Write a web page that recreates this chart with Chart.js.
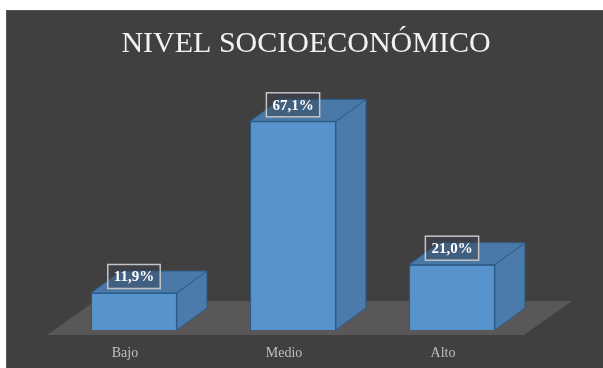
<!DOCTYPE html>
<html>
<head>
<meta charset="utf-8">
<script src="https://cdn.jsdelivr.net/npm/chart.js@4/dist/chart.umd.min.js"></script>
<style>
  html, body { margin: 0; padding: 0; background: #fff; }
  #box { position: relative; width: 603px; height: 368px; }
</style>
</head>
<body>
<div id="box"><canvas id="myChart"></canvas></div>
<script>
/* data */
const categories = ['Bajo', 'Medio', 'Alto'];
const values = [11.9, 67.1, 21.0];
const titleText = 'NIVEL SOCIOECONÓMICO';
const yMax = 70;

const serif = '"Liberation Serif", "Times New Roman", serif';

// 3D depth of the boxes and of the floor
const DX = 30, DY = -22;
const FLOOR_DX = 48, FLOOR_DY = -34;

function fmt(v) {
  return v.toFixed(1).replace('.', ',') + '%';
}

function poly(ctx, pts, fill, stroke) {
  ctx.beginPath();
  ctx.moveTo(pts[0][0], pts[0][1]);
  for (let i = 1; i < pts.length; i++) ctx.lineTo(pts[i][0], pts[i][1]);
  ctx.closePath();
  ctx.fillStyle = fill;
  ctx.fill();
  if (stroke) {
    ctx.strokeStyle = stroke;
    ctx.lineWidth = 1;
    ctx.stroke();
  }
}

const backdrop = {
  id: 'backdrop',
  beforeDraw(chart) {
    const ctx = chart.ctx;
    ctx.save();
    ctx.fillStyle = '#ffffff';
    ctx.fillRect(0, 0, chart.width, chart.height);
    ctx.fillStyle = '#404040';
    ctx.fillRect(6, 10, chart.width - 6, chart.height - 10);
    ctx.strokeStyle = '#565656';
    ctx.lineWidth = 1;
    ctx.strokeRect(6.5, 10.5, chart.width, chart.height);
    ctx.restore();
  },
  afterDraw(chart) {
    const ctx = chart.ctx;
    ctx.save();
    ctx.fillStyle = '#f2f2f2';
    ctx.font = '30px ' + serif;
    ctx.textAlign = 'center';
    ctx.textBaseline = 'alphabetic';
    ctx.fillText(titleText, 306, 52);
    ctx.restore();
  }
};

const box3d = {
  id: 'box3d',
  beforeDatasetsDraw(chart) {
    // floor under the bars
    const ctx = chart.ctx;
    const area = chart.chartArea;
    const base = chart.scales.y.getPixelForValue(0);
    const fy = base + 5;
    const l = area.left - 7.5, r = area.right - 7.5;
    ctx.save();
    poly(ctx, [[l, fy], [r, fy], [r + FLOOR_DX, fy + FLOOR_DY], [l + FLOOR_DX, fy + FLOOR_DY]], '#595757');
    ctx.restore();
  },
  afterDatasetsDraw(chart) {
    const ctx = chart.ctx;
    const meta = chart.getDatasetMeta(0);
    ctx.save();
    meta.data.forEach((bar, i) => {
      const p = bar.getProps(['x', 'y', 'width', 'base'], true);
      const x0 = p.x - p.width / 2, x1 = p.x + p.width / 2;
      const top = p.y, bot = p.base;
      // side face
      poly(ctx, [[x1, top], [x1 + DX, top + DY], [x1 + DX, bot + DY], [x1, bot]], '#4a7bab', '#2c5c8b');
      // top face
      poly(ctx, [[x0, top], [x0 + DX, top + DY], [x1 + DX, top + DY], [x1, top]], '#4a79a7', '#2c5c8b');
      // label
      const txt = fmt(values[i]);
      ctx.font = 'bold 15px ' + serif;
      const w = ctx.measureText(txt).width + 12;
      const h = 24;
      const cy = top - 16.5;
      ctx.fillStyle = 'rgba(55, 65, 78, 0.45)';
      ctx.fillRect(p.x - w / 2, cy - h / 2, w, h);
      ctx.strokeStyle = '#c4c4c4';
      ctx.lineWidth = 1.5;
      ctx.strokeRect(p.x - w / 2, cy - h / 2, w, h);
      ctx.fillStyle = '#ffffff';
      ctx.textAlign = 'center';
      ctx.textBaseline = 'middle';
      ctx.fillText(txt, p.x, cy + 1);
    });
    ctx.restore();
  }
};

function initChart() {
  const ctx = document.getElementById('myChart').getContext('2d');
  // eslint-disable-next-line no-unused-vars
  const myChart = new Chart(ctx, {
    type: 'bar',
    data: {
      labels: categories,
      datasets: [{
        data: values,
        backgroundColor: '#5793cd',
        borderColor: '#2c5c8b',
        borderWidth: 1,
        categoryPercentage: 0.54,
        barPercentage: 1
      }]
    },
    options: {
      responsive: true,
      maintainAspectRatio: false,
      animation: false,
      layout: { padding: { top: 112.3, left: 54.5, right: 71.5, bottom: 0 } },
      plugins: {
        legend: { display: false },
        title: { display: false },
        tooltip: { enabled: false }
      },
      scales: {
        x: {
          grid: { display: false, drawTicks: false },
          border: { display: false },
          ticks: {
            color: '#bfbfbf',
            font: { family: serif, size: 14 },
            padding: 15,
            labelOffset: -9
          },
          afterFit(scale) {
            scale.height = 38;
          }
        },
        y: {
          display: false,
          min: 0,
          max: yMax
        }
      }
    },
    plugins: [backdrop, box3d]
  });
}

const app = () => {
  initChart();
};

app();
</script>
</body>
</html>
